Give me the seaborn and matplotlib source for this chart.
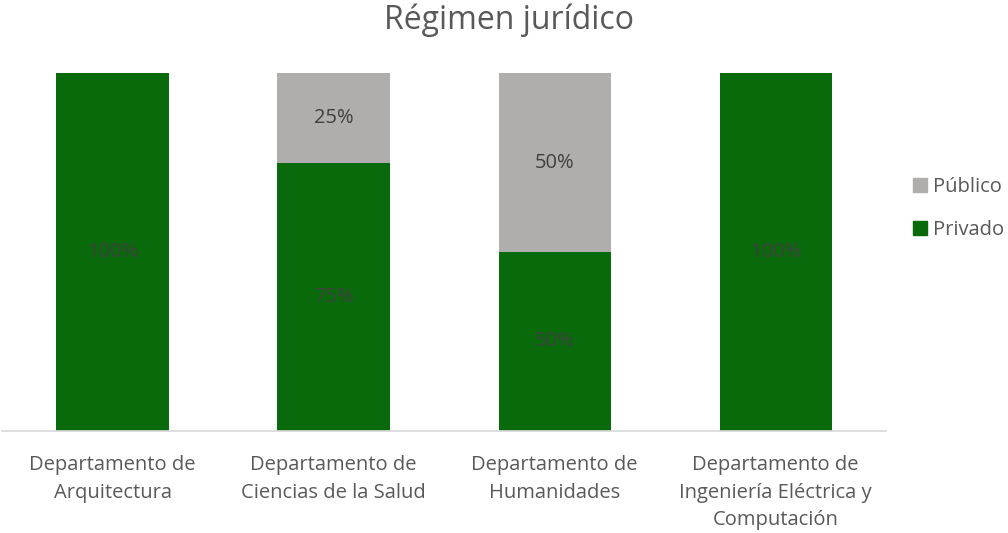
import matplotlib
matplotlib.use("Agg")
import matplotlib.pyplot as plt
import seaborn as sns
import pandas as pd
from matplotlib.patches import Patch

categories = ["Departamento de\nArquitectura",
              "Departamento de\nCiencias de la Salud",
              "Departamento de\nHumanidades",
              "Departamento de\nIngeniería Eléctrica y\nComputación"]
privado = [1.00, 0.75, 0.50, 1.00]
publico = [0.00, 0.25, 0.50, 0.00]

green = "#086A0A"
gray = "#AFAEAD"
txt = "#595959"

sns.set_theme(style="white")
plt.rcParams['font.family'] = ['Open Sans', 'DejaVu Sans']

fig = plt.figure(figsize=(10.08, 5.33), dpi=100)
ax = fig.add_axes([0.002, 0.1914, 0.877, 0.6716])

df = pd.DataFrame({"cat": categories, "Privado": privado, "Público": publico})
df["total"] = df["Privado"] + df["Público"]

sns.barplot(data=df, x="cat", y="total", color=gray, width=0.507, ax=ax,
            saturation=1, linewidth=0)
sns.barplot(data=df, x="cat", y="Privado", color=green, width=0.507, ax=ax,
            saturation=1, linewidth=0)

for i, (pv, pb) in enumerate(zip(privado, publico)):
    if pv > 0:
        ax.text(i, pv / 2, f"{pv*100:.0f}%", ha="center", va="center",
                color="#404040", fontsize=14.5)
    if pb > 0:
        ax.text(i, pv + pb / 2, f"{pb*100:.0f}%", ha="center", va="center",
                color="#404040", fontsize=14.5)

ax.set_ylim(0, 1)
ax.set_xlim(-0.5, 3.5)
ax.set_xlabel("")
ax.set_ylabel("")
ax.set_yticks([])
ax.tick_params(axis="x", length=0, labelsize=14.5, labelcolor=txt, pad=17.5)
for lab in ax.get_xticklabels():
    lab.set_linespacing(1.5)
for s in ["top", "right", "left"]:
    ax.spines[s].set_visible(False)
ax.spines["bottom"].set_color("#D9D9D9")

fig.text(0.505, 1 - 20 / 533, "Régimen jurídico", ha="center", va="center",
         fontsize=23, color=txt)

handles = [Patch(color=gray, label="Público"), Patch(color=green, label="Privado")]
fig.legend(handles=handles, loc="center left", bbox_to_anchor=(0.892, 0.609), frameon=False,
           fontsize=14.5, labelcolor=txt, handlelength=0.7, handleheight=0.7,
           handletextpad=0.3, labelspacing=1.12, borderaxespad=0.3)

fig.savefig("out.png", dpi=100)
